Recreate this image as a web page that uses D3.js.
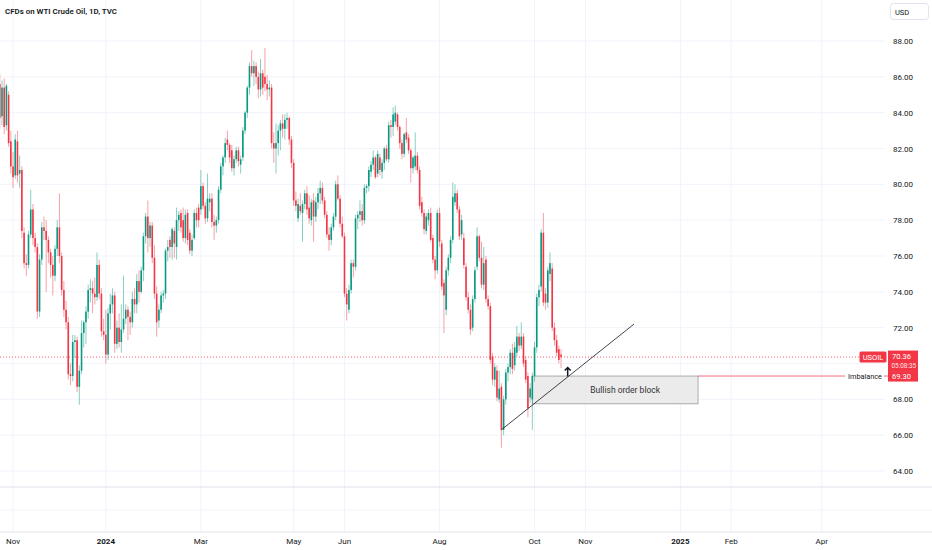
<!DOCTYPE html>
<html>
<head>
<meta charset="utf-8">
<script src="https://cdn.jsdelivr.net/npm/d3@7"></script>
<style>
  body { margin: 0; background: #fff; }
  svg { display: block; font-family: Roboto, "Noto Sans", sans-serif; }
</style>
</head>
<body>
<svg id="chart" width="932" height="550"></svg>
<script>
// ---- data ----
var title = "CFDs on WTI Crude Oil, 1D, TVC";
var symbol = "USOIL";
var firstDay = "2023-10-23";
var closedDays = ["2023-12-25", "2024-01-01", "2024-03-29"];

// daily bars [open, high, low, close]
var bars = [
  // Oct 2023
  [88.0,88.3,85.2,85.5],[85.6,86.2,83.1,83.7],[83.8,85.8,83.3,85.4],[85.4,85.9,82.8,83.2],
  [83.3,85.6,83.0,85.5],[85.0,85.2,82.1,82.3],[82.4,83.0,80.6,81.0],
  // Nov
  [81.0,81.8,79.8,80.4],[80.5,82.8,80.3,82.5],[82.4,83.0,80.1,80.5],[80.6,81.6,79.8,80.8],
  [80.8,81.0,77.0,77.4],[77.3,77.6,75.3,75.6],[75.6,76.1,74.9,75.5],[75.5,77.4,75.3,77.2],
  [77.2,79.7,77.0,78.6],[78.6,78.9,76.6,77.0],[77.0,77.3,76.2,76.5],[76.5,76.7,72.5,72.9],
  [72.9,76.1,72.6,75.8],[75.8,77.9,75.5,77.6],[77.6,78.2,76.9,77.4],[77.4,78.0,74.0,76.9],
  [76.9,77.1,75.6,76.2],[76.2,76.4,74.8,75.5],[75.5,76.0,73.8,74.9],[74.9,76.6,74.6,76.4],
  [76.4,78.0,76.0,77.6],[77.6,79.5,75.6,76.0],
  // Dec
  [76.0,76.2,73.8,74.1],[74.1,74.6,72.6,73.0],[73.0,73.5,71.9,72.3],[72.3,72.6,69.1,69.4],
  [69.4,70.0,68.8,69.3],[69.3,71.6,69.0,71.2],[71.2,71.6,70.3,71.3],[71.3,71.5,68.4,68.7],
  [68.7,69.9,67.7,69.6],[69.6,72.4,69.4,71.7],[71.7,72.4,70.9,72.3],[72.3,73.2,71.1,72.9],
  [72.9,74.4,72.5,74.1],[74.1,74.7,73.4,74.2],[74.2,74.6,72.8,73.9],[73.9,74.8,73.3,73.7],
  [73.7,76.2,73.5,75.5],[75.5,75.8,73.6,73.9],[73.9,74.2,71.5,71.8],[71.8,72.5,71.3,71.6],
  // Jan 2024
  [71.6,73.0,70.0,70.5],[70.5,73.1,70.2,72.8],[72.8,73.9,71.9,73.3],[73.3,74.2,72.8,73.8],
  [73.8,74.0,70.6,71.1],[71.1,72.4,70.8,72.0],[72.0,72.8,70.9,71.2],[71.2,73.3,70.6,71.9],
  [71.9,74.9,71.7,72.5],[72.5,73.3,72.2,73.0],[73.0,73.2,71.3,72.6],[72.6,72.9,71.6,72.3],
  [72.3,74.0,72.0,73.6],[73.6,74.2,72.8,73.3],[73.3,75.0,72.8,74.6],[74.6,75.2,73.4,74.0],
  [74.0,75.4,73.9,75.2],[75.2,77.3,74.6,77.1],[77.1,78.4,76.7,78.2],[78.2,79.1,76.2,77.0],
  [77.0,77.9,76.5,77.7],[77.7,77.9,75.6,75.9],
  // Feb
  [75.9,76.6,73.6,73.9],[73.9,74.3,71.5,72.3],[72.4,73.3,72.0,73.0],[73.0,74.0,72.8,73.8],
  [73.8,74.1,73.4,73.9],[73.9,76.4,73.6,76.3],[76.3,76.9,75.7,76.5],[76.9,77.1,75.9,76.5],
  [76.5,77.6,75.8,77.5],[77.4,77.6,75.9,76.7],[76.5,78.7,75.8,78.0],[78.0,78.5,77.4,78.3],
  [78.4,78.6,77.3,77.6],[78.0,78.7,76.8,77.0],[77.0,78.6,76.7,78.3],[78.4,78.6,76.6,76.9],
  [77.3,77.5,76.1,76.3],[76.3,77.2,76.0,76.9],[77.0,78.6,76.9,78.4],[78.4,78.7,77.6,78.0],
  [78.7,78.9,77.6,78.0],
  // Mar
  [78.6,80.8,78.3,79.9],[79.9,80.1,78.6,78.8],[78.8,79.0,77.8,78.1],[78.1,80.6,77.9,79.2],
  [79.0,79.5,78.5,79.2],[79.2,79.5,77.6,77.9],[77.9,78.3,76.9,77.7],[77.7,78.2,77.3,78.0],
  [78.0,79.9,77.8,79.7],[79.7,81.2,79.5,81.0],[81.0,81.6,80.5,81.5],[81.5,82.6,81.2,82.3],
  [82.5,83.0,81.9,82.2],[82.2,82.3,81.2,81.5],[81.9,82.2,80.7,80.9],[80.9,81.6,80.5,81.4],
  [81.4,82.1,81.2,81.9],[81.9,82.1,81.0,81.3],[81.1,81.6,80.6,81.4],[81.5,83.2,81.3,83.0],
  // Apr
  [83.0,84.1,82.8,84.0],[84.0,85.5,83.7,85.4],[85.4,86.8,85.0,86.6],[86.6,87.5,86.0,86.2],
  [86.2,86.9,85.5,86.6],[86.6,86.8,85.6,86.0],[86.0,86.3,84.8,85.3],[85.3,87.0,84.9,86.2],
  [86.2,86.4,85.0,85.4],[86.0,87.6,85.2,85.6],[85.6,86.1,84.7,85.3],[85.3,85.8,84.9,85.4],
  [85.4,85.6,82.0,82.3],[82.3,82.9,81.2,82.0],[82.0,83.4,80.6,82.3],[82.3,83.3,81.6,83.0],
  [83.0,83.6,81.9,83.4],[83.4,83.9,82.6,83.1],[83.1,83.9,82.5,83.6],[83.6,84.0,83.1,83.7],
  [83.7,83.8,82.2,82.5],[82.5,82.7,80.9,81.2],
  // May
  [81.2,81.4,78.8,79.1],[79.1,79.6,78.5,78.8],[78.1,79.2,77.9,78.9],[78.8,79.5,78.3,78.5],
  [78.4,79.1,76.8,78.9],[78.9,79.7,78.6,79.5],[79.5,79.9,78.3,78.6],[78.7,79.4,77.8,78.1],
  [78.0,79.2,77.7,79.0],[79.1,79.5,76.8,78.2],[78.2,79.3,77.9,79.0],[79.0,79.8,78.6,79.5],
  [79.5,80.2,78.9,79.8],[79.8,80.1,78.9,79.1],[79.1,79.3,78.1,78.3],[78.3,78.5,77.0,77.2],
  [77.2,77.6,76.3,76.9],[76.9,77.8,76.6,77.6],[77.6,78.4,77.4,78.2],[78.2,80.2,78.0,80.0],
  [80.0,80.5,79.1,79.2],[79.2,79.4,77.6,77.8],[77.8,78.2,77.0,77.1],
  // Jun
  [77.1,77.3,73.7,73.9],[73.9,74.2,72.4,73.3],[73.0,74.4,72.8,74.1],[74.1,75.8,73.9,75.6],
  [75.6,75.8,74.8,75.4],[75.4,78.3,75.2,78.1],[78.1,78.5,77.5,78.3],[78.3,79.1,77.9,78.5],
  [78.5,78.9,77.7,78.0],[78.0,80.0,77.8,79.8],[79.8,80.0,79.5,79.9],[79.9,81.0,79.6,80.8],
  [80.7,81.3,80.4,81.1],[81.1,81.9,80.8,81.5],[81.5,81.6,80.3,80.4],[80.6,81.9,80.4,81.7],
  [81.5,81.7,80.5,80.8],[80.7,81.4,80.3,81.2],[81.2,82.1,80.8,82.0],[82.0,82.2,81.3,81.4],
  // Jul
  [81.4,83.5,81.2,83.3],[83.3,83.6,82.6,83.2],[83.2,84.3,82.7,83.9],[83.5,84.4,83.3,84.0],
  [83.9,84.0,83.0,83.2],[83.2,83.3,82.0,82.3],[82.3,82.5,81.4,81.7],[81.7,82.9,81.5,82.8],
  [82.9,83.7,82.3,82.5],[82.6,82.8,81.7,81.9],[81.9,82.0,80.1,80.9],[80.9,81.6,80.6,81.5],
  [81.0,82.9,80.8,81.6],[81.6,81.8,80.6,80.8],[80.8,81.0,78.6,78.8],[79.0,79.3,78.2,78.4],
  [78.4,78.6,77.2,77.5],[77.4,78.4,77.2,78.2],[78.0,78.6,77.7,78.4],[78.4,78.7,76.8,76.9],
  [77.0,77.2,75.6,75.8],[75.8,76.0,74.7,75.2],[75.2,78.6,75.0,78.4],
  // Aug
  [78.4,78.7,76.5,76.8],[76.7,76.9,74.1,74.3],[74.5,74.7,71.7,73.8],[73.0,75.4,72.7,75.2],
  [75.2,76.1,74.9,75.9],[75.9,77.1,75.6,76.9],[76.9,80.1,76.7,79.3],[79.0,80.0,78.8,79.5],
  [79.5,79.7,78.4,78.6],[78.6,78.8,76.9,77.1],[77.2,78.3,76.9,78.0],[77.0,77.3,75.3,75.5],
  [75.4,75.6,73.5,73.7],[73.7,74.0,72.8,73.0],[73.0,73.3,71.6,71.9],[72.0,73.8,71.8,73.6],
  [73.6,75.4,73.4,75.2],[75.4,77.6,75.2,77.1],[77.1,77.2,75.7,75.9],[75.9,76.8,74.2,74.4],
  [74.4,76.5,74.1,75.6],[75.8,76.0,73.4,73.6],
  // Sep
  [73.6,73.8,73.0,73.2],[73.2,73.4,70.0,70.2],[70.4,70.6,68.8,69.1],[69.1,70.0,68.7,69.8],
  [69.6,69.9,67.9,68.1],[68.0,69.6,67.8,68.6],[68.7,68.9,65.3,66.3],[66.3,68.2,66.0,68.0],
  [68.0,69.7,67.7,69.5],[69.5,70.0,69.0,69.8],[69.8,70.8,69.4,70.6],[70.6,71.1,69.4,69.7],
  [69.9,71.2,69.6,70.9],[70.6,72.1,70.4,71.5],[71.5,71.7,70.7,71.0],[71.0,72.3,70.8,71.5],
  [71.5,71.7,69.8,70.0],[70.2,70.4,68.9,69.1],[69.3,69.5,67.0,67.5],[68.1,68.9,67.8,68.6],
  [68.0,69.5,66.3,69.3],
  // Oct 2024
  [69.3,71.2,69.0,70.9],[70.9,73.9,70.6,73.7],[73.7,74.4,73.2,74.1],[74.3,77.5,74.0,77.3],
  [77.3,78.4,73.2,73.4],[73.9,74.2,73.0,73.4],[73.4,75.4,73.1,75.2],[75.0,76.2,74.6,75.6],
  [75.3,75.6,71.8,72.0],[72.0,72.3,71.0,71.3],[71.3,71.6,70.4,70.6],[70.8,71.0,70.0,70.2],
  [70.5,70.8,69.75,70.36]
];

var priceTicks = [64, 66, 68, 70, 72, 74, 76, 78, 80, 82, 84, 86, 88];
var timeTicks = ["2023-11", "2024-01", "2024-03", "2024-05", "2024-06", "2024-08",
                 "2024-10", "2024-11", "2025-01", "2025-02", "2025-04"];

var lastPrice = 70.36;
var countdown = "05:08:35";
var orderBlock = { from: "2024-09-30", to: "2025-01-13", top: 69.30, bottom: 67.75, label: "Bullish order block" };
var imbalance = { price: 69.30, label: "Imbalance" };
var trendLine = [{ date: "2024-09-10", price: 66.3 }, { date: "2024-12-03", price: 72.2 }];
var arrowMark = { date: "2024-10-22", from: 69.28, to: 69.78 };

// ---- layout ----
var W = 932, H = 550;
var paneRight = 885, mainBottom = 487, axisTop = 532;
var up = "#089981", down = "#f23645";

var svg = d3.select("#chart");

// trading calendar: weekdays, minus the closed days
var parse = d3.utcParse("%Y-%m-%d"), fmt = d3.utcFormat("%Y-%m-%d");
var dates = [];
var day = parse(firstDay);
while (dates.length < bars.length + 170) {
  var wd = day.getUTCDay(), s = fmt(day);
  if (wd !== 0 && wd !== 6 && closedDays.indexOf(s) < 0) dates.push(s);
  day = d3.utcDay.offset(day, 1);
}
function idx(s) { return dates.indexOf(s); }

// visible bar range of the view
var x = d3.scaleLinear().domain([1.1, 401.6]).range([0, paneRight]);
var y = d3.scaleLinear().domain([64, 88]).range([471, 41]);

// grid
svg.append("g").selectAll("line").data(priceTicks).join("line")
  .attr("x1", 0).attr("x2", paneRight)
  .attr("y1", function(d) { return y(d); }).attr("y2", function(d) { return y(d); })
  .attr("stroke", "#f0f3fa");

var tickIdx = timeTicks.map(function(m) {
  return { m: m, i: dates.findIndex(function(s) { return s.indexOf(m) === 0; }) };
});

svg.append("g").selectAll("line").data(tickIdx).join("line")
  .attr("x1", function(d) { return x(d.i); }).attr("x2", function(d) { return x(d.i); })
  .attr("y1", 0).attr("y2", axisTop)
  .attr("stroke", "#f0f3fa");

// pane separators
svg.append("line").attr("x1", 0).attr("x2", W).attr("y1", mainBottom).attr("y2", mainBottom)
  .attr("stroke", "#e0e3eb");
svg.append("line").attr("x1", 0).attr("x2", W).attr("y1", 510).attr("y2", 510)
  .attr("stroke", "#f0f3fa");
svg.append("line").attr("x1", 0).attr("x2", W).attr("y1", axisTop).attr("y2", axisTop)
  .attr("stroke", "#e0e3eb");

// clip for the main pane
svg.append("clipPath").attr("id", "clipMain")
  .append("rect").attr("x", 0).attr("y", 0).attr("width", paneRight).attr("height", mainBottom);

var main = svg.append("g").attr("clip-path", "url(#clipMain)");

// order block
var obx0 = x(idx(orderBlock.from)), obx1 = x(idx(orderBlock.to));
main.append("rect")
  .attr("x", obx0).attr("y", y(orderBlock.top))
  .attr("width", obx1 - obx0).attr("height", y(orderBlock.bottom) - y(orderBlock.top))
  .attr("fill", "#ebebeb").attr("stroke", "#9a9a9a").attr("stroke-width", 0.8);
main.append("text")
  .attr("x", (obx0 + obx1) / 2 + 10).attr("y", (y(orderBlock.top) + y(orderBlock.bottom)) / 2 + 3)
  .attr("text-anchor", "middle").attr("font-size", "8.5px").attr("fill", "#333")
  .text(orderBlock.label);

// last price dotted line
main.append("line")
  .attr("x1", 0).attr("x2", 859).attr("y1", y(lastPrice)).attr("y2", y(lastPrice))
  .attr("stroke", down).attr("stroke-width", 0.8).attr("stroke-dasharray", "1,2");

// candles
var candle = main.append("g").selectAll("g").data(bars).join("g");
candle.append("line")
  .attr("x1", function(d, i) { return x(i); }).attr("x2", function(d, i) { return x(i); })
  .attr("y1", function(d) { return y(d[1]); }).attr("y2", function(d) { return y(d[2]); })
  .attr("stroke", function(d) { return d[3] >= d[0] ? up : down; })
  .attr("stroke-width", 0.8).attr("stroke-opacity", 0.6);
candle.append("rect")
  .attr("x", function(d, i) { return x(i) - 0.8; })
  .attr("width", 1.6)
  .attr("y", function(d) { return y(Math.max(d[0], d[3])); })
  .attr("height", function(d) { return Math.max(0.8, Math.abs(y(d[0]) - y(d[3]))); })
  .attr("fill", function(d) { return d[3] >= d[0] ? up : down; });

// trend line
main.append("line")
  .attr("x1", x(idx(trendLine[0].date))).attr("y1", y(trendLine[0].price))
  .attr("x2", x(idx(trendLine[1].date))).attr("y2", y(trendLine[1].price))
  .attr("stroke", "#131722").attr("stroke-width", 0.8);

// arrow
var ax = x(idx(arrowMark.date)), ay0 = y(arrowMark.from), ay1 = y(arrowMark.to);
main.append("path")
  .attr("d", "M" + ax + "," + ay0 + "V" + ay1 + "M" + (ax - 3) + "," + (ay1 + 3) + "L" + ax + "," + ay1 + "L" + (ax + 3) + "," + (ay1 + 3))
  .attr("fill", "none").attr("stroke", "#131722").attr("stroke-width", 1.5);

// imbalance line and label
var iy = y(imbalance.price);
svg.append("line").attr("x1", obx1).attr("x2", 845).attr("y1", iy).attr("y2", iy)
  .attr("stroke", "#f05a6e").attr("stroke-width", 0.9);
svg.append("line").attr("x1", 884).attr("x2", 888).attr("y1", iy).attr("y2", iy)
  .attr("stroke", "#f05a6e").attr("stroke-width", 0.9);
svg.append("text").attr("x", 848).attr("y", iy + 3)
  .attr("font-size", "7.8px").attr("fill", "#131722")
  .attr("textLength", 34).attr("lengthAdjust", "spacingAndGlyphs")
  .text(imbalance.label);

// title
svg.append("text").attr("x", 5).attr("y", 13.5)
  .attr("font-size", "7.6px").attr("font-weight", 600).attr("fill", "#131722")
  .attr("textLength", 112).attr("lengthAdjust", "spacingAndGlyphs")
  .text(title);

// USD box
svg.append("rect").attr("x", 890.5).attr("y", 3.5).attr("width", 38).attr("height", 16).attr("rx", 3)
  .attr("fill", "#fff").attr("stroke", "#e0e3eb");
svg.append("text").attr("x", 895).attr("y", 14.5).attr("font-size", "7.5px").attr("fill", "#131722").text("USD");

// price axis labels (the ones hidden behind the last-price labels are skipped, as on the chart)
var fmtPrice = d3.format(".2f");
var ly = y(lastPrice);
var shownTicks = priceTicks.filter(function(p) {
  var py = y(p);
  return py < ly - 12 || py > iy + 12;
});
svg.append("g").selectAll("text").data(shownTicks).join("text")
  .attr("x", 893).attr("y", function(d) { return y(d) + 3; })
  .attr("font-size", "8px").attr("fill", "#131722")
  .text(function(d) { return fmtPrice(d); });

// symbol + last price + countdown labels
svg.append("rect").attr("x", 859.5).attr("y", ly - 5.5).attr("width", 27).attr("height", 11).attr("rx", 1.5)
  .attr("fill", down);
svg.append("text").attr("x", 873).attr("y", ly + 3).attr("text-anchor", "middle")
  .attr("font-size", "7.5px").attr("fill", "#fff").text(symbol);
svg.append("rect").attr("x", 888).attr("y", ly - 6.5).attr("width", 30).attr("height", iy - 5 - (ly - 6.5))
  .attr("fill", down);
svg.append("text").attr("x", 892).attr("y", ly + 1.5).attr("font-size", "7.6px").attr("fill", "#fff")
  .text(fmtPrice(lastPrice));
svg.append("text").attr("x", 891.5).attr("y", ly + 11).attr("font-size", "6.4px").attr("fill", "#ffe3e5")
  .text(countdown);
svg.append("rect").attr("x", 888).attr("y", iy - 5).attr("width", 30).attr("height", 10.5)
  .attr("fill", down);
svg.append("text").attr("x", 892).attr("y", iy + 3.3).attr("font-size", "7.6px").attr("fill", "#fff")
  .text(fmtPrice(imbalance.price));

// time axis labels
var monthFmt = d3.utcFormat("%b"), yearFmt = d3.utcFormat("%Y");
svg.append("g").selectAll("text").data(tickIdx).join("text")
  .attr("x", function(d) { return x(d.i); }).attr("y", 544)
  .attr("text-anchor", "middle").attr("font-size", "8px").attr("fill", "#131722")
  .attr("font-weight", function(d) { return d.m.slice(5) === "01" ? 700 : 400; })
  .text(function(d) {
    var dt = parse(d.m + "-01");
    return d.m.slice(5) === "01" ? yearFmt(dt) : monthFmt(dt);
  });
</script>
</body>
</html>
